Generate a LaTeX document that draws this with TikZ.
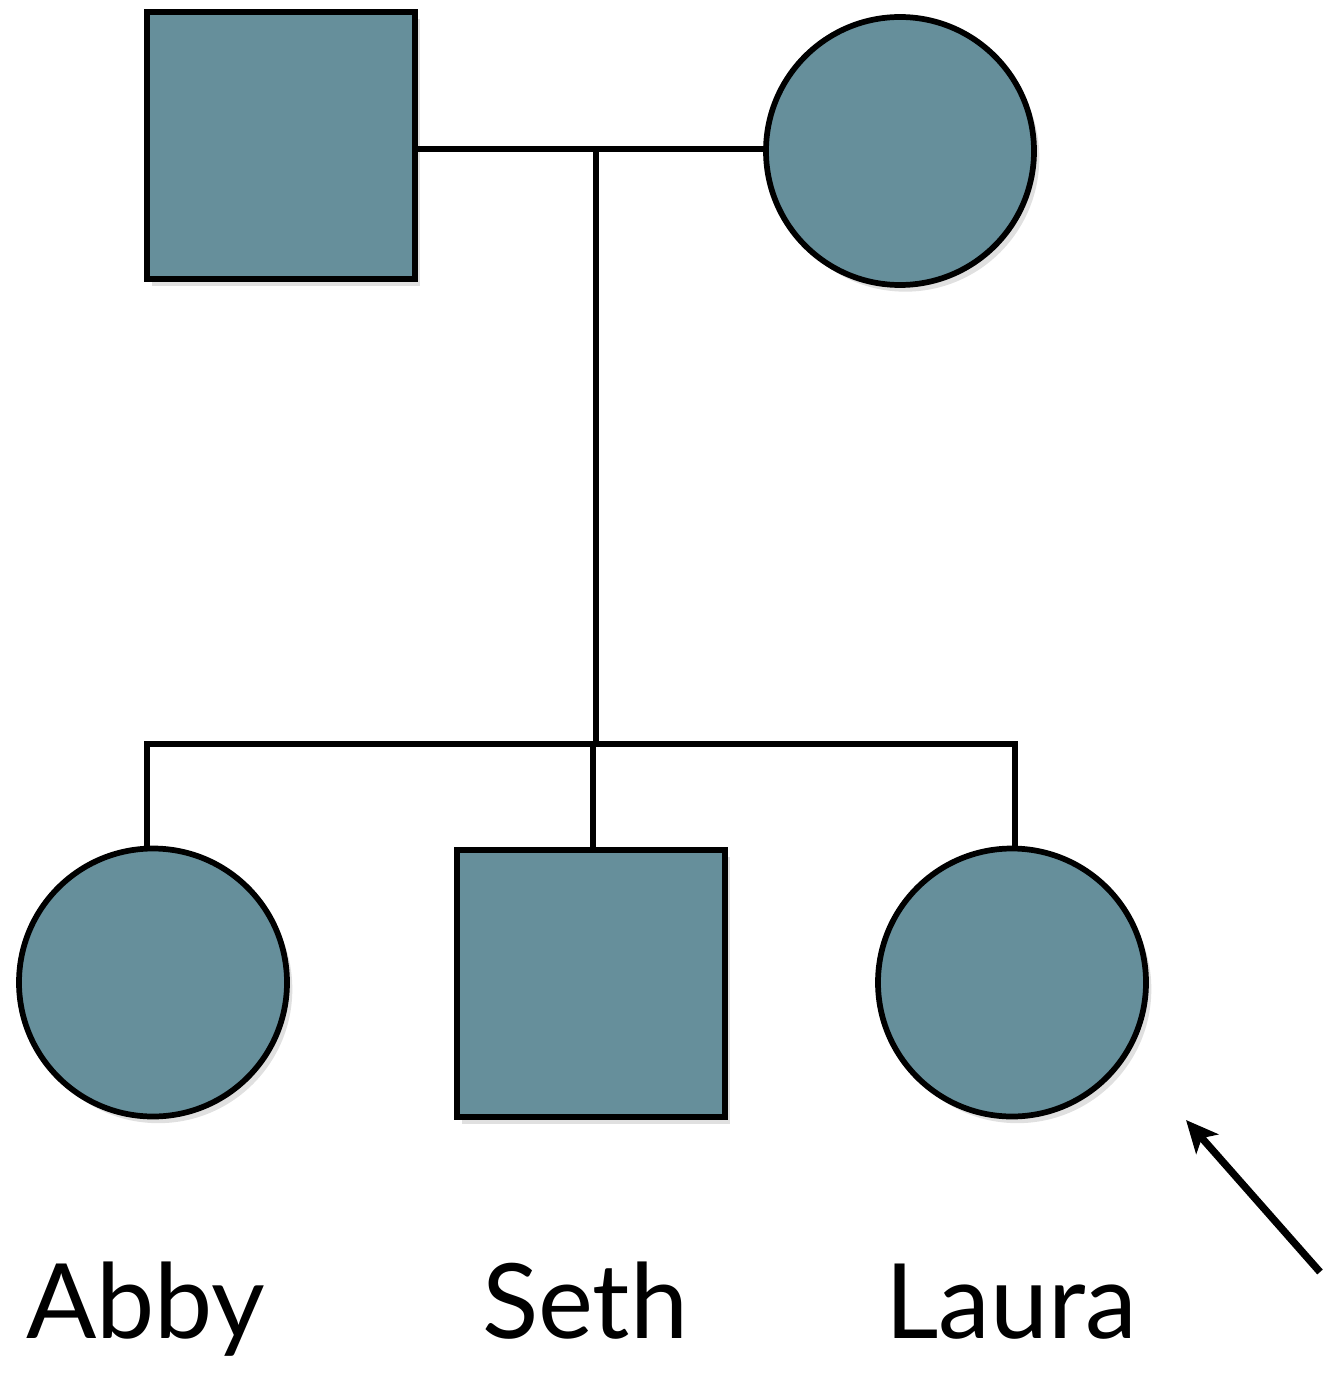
\documentclass[tikz,border=0pt]{standalone}
\usepackage{fontspec}
\setmainfont{Lato}
\usetikzlibrary{shadows,arrows.meta}
\definecolor{affected}{HTML}{668F9B}
\begin{document}
\begin{tikzpicture}[x=0.75pt,y=-0.75pt,
  line width=4.3pt,
  person/.style={draw=black, fill=affected, line width=4.3pt, inner sep=0pt, outer sep=0pt,
    drop shadow={shadow xshift=4pt, shadow yshift=-5pt, opacity=0.12, fill=black}},
  male/.style={person, rectangle, minimum width=201pt, minimum height=200pt},
  female/.style={person, circle, minimum size=201pt},
  label/.style={font=\fontsize{78}{90}\selectfont, anchor=base, inner sep=0pt}]
  \useasboundingbox (0,0) rectangle (1327,1373);
  % parents
  \node[male] (father) at (281,145.5) {};
  \node[female] (mother) at (900,151) {};
  % children
  \node[female] (abby) at (153,982.5) {};
  \node[male] (seth) at (591,983.5) {};
  \node[female] (laura) at (1012,982.5) {};
  % marriage and descent lines
  \coordinate (mid) at (596,149);
  \coordinate (sib) at (596,744);
  \coordinate (sibL) at (147,744);
  \coordinate (sibR) at (1015,744);
  \draw (father.east |- mid) -- (mid) -- (mother.west |- mid);
  \draw (mid) -- (sib);
  \draw[line cap=rect] (sibL) -- (sibR);
  \draw (sibL) -- (sibL |- abby.north);
  \draw (593,744) -- (593,850);
  \draw (sibR) -- (sibR |- laura.north);
  % proband arrow
  \coordinate (ptail) at (1320,1272);
  \coordinate (phead) at (1186,1120);
  \draw[line width=5.5pt, -{Stealth[length=24pt,width=22pt,inset=6pt]}] (ptail) -- (phead);
  % names
  \node[label] (nabby) at (146,1338) {Abby};
  \node[label] (nseth) at (585,1338) {Seth};
  \node[label] (nlaura) at (1011,1338) {Laura};
\end{tikzpicture}
\end{document}
